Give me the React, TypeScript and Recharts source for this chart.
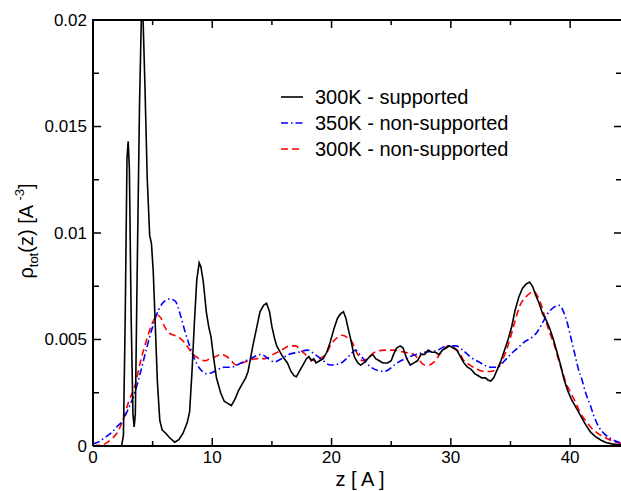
import React from "react";
import { LineChart, Line, XAxis, YAxis } from "recharts";

// 300K - supported (black solid)
const zSup300 = [0, 2.4, 2.55, 2.7, 2.85, 2.95, 3.05, 3.2, 3.35, 3.45, 3.55, 3.7, 3.9, 4.05, 4.2, 4.35, 4.55, 4.75, 4.9, 5.05, 5.2, 5.4, 5.6, 5.8, 6.1, 6.4, 6.85, 7.2, 7.55, 7.9, 8.1, 8.3, 8.5, 8.7, 8.9, 9.05, 9.25, 9.5, 9.7, 9.9, 10.1, 10.35, 10.7, 11.0, 11.3, 11.6, 11.9, 12.2, 12.5, 12.8, 13.0, 13.2, 13.4, 13.7, 14.0, 14.3, 14.55, 14.8, 15.0, 15.2, 15.4, 15.6, 15.9, 16.3, 16.6, 16.85, 17.05, 17.3, 17.6, 17.9, 18.1, 18.3, 18.5, 18.7, 19.0, 19.3, 19.6, 19.9, 20.2, 20.5, 20.75, 21.0, 21.2, 21.4, 21.65, 21.9, 22.2, 22.45, 22.7, 22.9, 23.2, 23.45, 23.7, 24.0, 24.3, 24.7, 25.0, 25.2, 25.45, 25.75, 26.0, 26.3, 26.6, 26.9, 27.2, 27.5, 27.8, 28.1, 28.4, 28.7, 29.0, 29.3, 29.6, 29.9, 30.2, 30.5, 30.8, 31.1, 31.4, 31.7, 32.0, 32.3, 32.6, 32.9, 33.1, 33.35, 33.6, 33.9, 34.2, 34.5, 34.8, 35.1, 35.4, 35.7, 36.0, 36.3, 36.6, 36.85, 37.1, 37.4, 37.7, 38.0, 38.3, 38.6, 38.9, 39.2, 39.5, 39.8, 40.1, 40.5, 40.9, 41.3, 41.7, 42.1, 42.6, 43.0, 43.5, 44.0, 44.3];
const rhoSup300 = [0, 0, 0.0005, 0.006, 0.0135, 0.0143, 0.013, 0.006, 0.0015, 0.0009, 0.0015, 0.008, 0.016, 0.02, 0.02, 0.017, 0.0125, 0.0099, 0.0095, 0.0082, 0.006, 0.003, 0.0012, 0.00075, 0.0006, 0.0004, 0.00018, 0.0003, 0.0006, 0.0011, 0.0016, 0.0035, 0.0058, 0.0078, 0.0086, 0.0084, 0.0077, 0.0063, 0.0056, 0.0051, 0.0042, 0.0032, 0.0025, 0.0021, 0.002, 0.0019, 0.0022, 0.0026, 0.0029, 0.0032, 0.0035, 0.0041, 0.0047, 0.0055, 0.0063, 0.0066, 0.0067, 0.0063, 0.0056, 0.0051, 0.0047, 0.0045, 0.0042, 0.0039, 0.0035, 0.0033, 0.00325, 0.0035, 0.0038, 0.0041, 0.0042, 0.004, 0.0041, 0.0039, 0.004, 0.0041, 0.0044, 0.0049, 0.0055, 0.006, 0.0062, 0.0063, 0.006, 0.0055, 0.0049, 0.0042, 0.0039, 0.0038, 0.0039, 0.004, 0.0042, 0.0043, 0.0041, 0.004, 0.0039, 0.0039, 0.004, 0.0043, 0.0046, 0.0047, 0.0046, 0.0041, 0.0038, 0.0039, 0.004, 0.0043, 0.0043, 0.0045, 0.0044, 0.0044, 0.0043, 0.0045, 0.0046, 0.0047, 0.0046, 0.0045, 0.0042, 0.0039, 0.0037, 0.0036, 0.0034, 0.0033, 0.0032, 0.0032, 0.0031, 0.00305, 0.0032, 0.0036, 0.004, 0.0045, 0.005, 0.0056, 0.0064, 0.007, 0.0074, 0.0076, 0.0077, 0.0075, 0.0071, 0.0067, 0.0062, 0.0059, 0.0055, 0.005, 0.0044, 0.0038, 0.0031, 0.0026, 0.0022, 0.0018, 0.0014, 0.001, 0.00066, 0.00045, 0.00027, 0.00016, 0.0001, 0.00006, 0.00005];

// 350K - non-supported (blue dash-dot)
const zNon350 = [0, 0.5, 1.0, 1.5, 2.0, 2.5, 3.0, 3.5, 4.0, 4.5, 5.0, 5.5, 6.0, 6.4, 6.9, 7.3, 7.7, 8.1, 8.5, 9.0, 9.5, 10.0, 10.5, 11.0, 11.6, 12.4, 13.2, 14.1, 14.7, 15.2, 15.8, 16.4, 17.2, 18.0, 18.6, 19.1, 19.9, 20.8, 21.6, 22.0, 22.5, 23.3, 24.4, 25.5, 26.6, 27.8, 28.9, 29.7, 30.4, 31.0, 31.6, 32.5, 33.3, 33.9, 34.5, 35.0, 35.6, 36.2, 36.8, 37.3, 37.7, 38.1, 38.6, 39.1, 39.45, 39.8, 40.1, 40.4, 40.7, 41.0, 41.3, 41.7, 42.0, 42.4, 42.85, 43.3, 43.7, 44.3];
const rhoNon350 = [0.0001, 0.0002, 0.0004, 0.0006, 0.0009, 0.0012, 0.0018, 0.0025, 0.0035, 0.0046, 0.0056, 0.0064, 0.0068, 0.0069, 0.0068, 0.0062, 0.0054, 0.0047, 0.0041, 0.0036, 0.0034, 0.00345, 0.0036, 0.0037, 0.0037, 0.0039, 0.0041, 0.0043, 0.0041, 0.00395, 0.0041, 0.0043, 0.0044, 0.0045, 0.0043, 0.0041, 0.0038, 0.0039, 0.0043, 0.0045, 0.0042, 0.0037, 0.0035, 0.0039, 0.0042, 0.0044, 0.0045, 0.0047, 0.0047, 0.0045, 0.0042, 0.0039, 0.0037, 0.0037, 0.004, 0.0043, 0.0046, 0.0049, 0.0051, 0.0054, 0.0058, 0.0062, 0.0065, 0.0066, 0.0063, 0.0057, 0.005, 0.0043, 0.0036, 0.0031, 0.0025, 0.0019, 0.0014, 0.0009, 0.00058, 0.00038, 0.00026, 0.00013];

// 300K - non-supported (red dashed)
const zNon300 = [0, 0.5, 1.0, 1.5, 2.0, 2.5, 3.0, 3.5, 4.0, 4.5, 5.0, 5.4, 5.7, 6.0, 6.4, 6.8, 7.2, 7.6, 8.0, 8.4, 8.9, 9.4, 9.8, 10.3, 10.7, 11.2, 11.6, 12.0, 12.5, 13.0, 13.7, 14.4, 15.1, 15.8, 16.5, 17.0, 17.4, 17.8, 18.2, 18.6, 19.0, 19.5, 20.0, 20.5, 20.9, 21.3, 21.7, 22.1, 22.6, 23.0, 23.6, 24.4, 25.2, 26.1, 26.9, 27.4, 27.8, 28.2, 28.6, 29.2, 29.8, 30.3, 30.7, 31.1, 31.6, 32.2, 32.8, 33.3, 33.8, 34.2, 34.6, 35.0, 35.4, 35.8, 36.3, 36.7, 37.0, 37.3, 37.6, 37.95, 38.3, 38.7, 39.0, 39.4, 39.7, 40.05, 40.5, 40.9, 41.3, 41.7, 42.3, 42.85, 43.5, 44.0, 44.3];
const rhoNon300 = [0, 0.00003, 0.0001, 0.0003, 0.0006, 0.0012, 0.0021, 0.0028, 0.004, 0.005, 0.0058, 0.00615, 0.006, 0.0056, 0.0053, 0.0052, 0.0051, 0.0049, 0.0046, 0.0043, 0.0041, 0.004, 0.0041, 0.0042, 0.0043, 0.0042, 0.004, 0.0038, 0.0039, 0.004, 0.0041, 0.0041, 0.0043, 0.0045, 0.0047, 0.0047, 0.0045, 0.0043, 0.0041, 0.004, 0.0041, 0.0043, 0.0048, 0.0051, 0.0052, 0.0051, 0.0049, 0.0044, 0.004, 0.0041, 0.0044, 0.0045, 0.0045, 0.0044, 0.0043, 0.004, 0.0038, 0.0038, 0.00395, 0.0044, 0.0047, 0.0046, 0.0044, 0.004, 0.0038, 0.0036, 0.0035, 0.0035, 0.0036, 0.0039, 0.0044, 0.0051, 0.0059, 0.0066, 0.007, 0.0072, 0.00725, 0.007, 0.0066, 0.0059, 0.0053, 0.0047, 0.0041, 0.0034, 0.0029, 0.0025, 0.002, 0.0015, 0.0012, 0.0009, 0.0006, 0.00042, 0.00025, 0.00015, 0.00012];

const xTicks = [0, 5, 10, 15, 20, 25, 30, 35, 40];
const yTicks = [0, 0.0025, 0.005, 0.0075, 0.01, 0.0125, 0.015, 0.0175, 0.02];
const yLabels = ["0", "", "0.005", "", "0.01", "", "0.015", "", "0.02"];
const seriesNames = ["300K - supported", "350K - non-supported", "300K - non-supported"];
const Z_MAX = 44.35;
const RHO_MAX = 0.02;

const toData = (zs: number[], vs: number[]) => zs.map((z, i) => ({ z, v: vs[i] }));
const dataSup300 = toData(zSup300, rhoSup300);
const dataNon350 = toData(zNon350, rhoNon350);
const dataNon300 = toData(zNon300, rhoNon300);

const FONT = "'Liberation Sans', Arial, Helvetica, sans-serif";

// plot rectangle (chart margins + axis sizes)
const PLOT_LEFT = 93;
const PLOT_TOP = 20;
const PLOT_W = 529;
const PLOT_H = 426;

const isMajorX = (v: number) => Math.round(v) % 10 === 0;
const yIndex = (v: number) => yTicks.findIndex((t) => Math.abs(t - v) < 1e-9);
const isMajorY = (v: number) => yIndex(v) % 2 === 0;

const BottomTick = (p: any) => {
  const { x, y, payload } = p;
  const major = isMajorX(payload.value);
  return (
    <g>
      <line x1={x} x2={x} y1={y} y2={y - (major ? 8 : 5)} stroke="#000" strokeWidth={1.5} />
      {major && (
        <text x={x} y={y + 17} textAnchor="middle" fontSize={17} fontFamily={FONT} fill="#000">
          {payload.value}
        </text>
      )}
    </g>
  );
};
const LeftTick = (p: any) => {
  const { x, y, payload } = p;
  const major = isMajorY(payload.value);
  return (
    <g>
      <line x1={x} x2={x + (major ? 8 : 6)} y1={y} y2={y} stroke="#000" strokeWidth={1.5} />
      {major && (
        <text x={x - 6} y={y} dy="0.35em" textAnchor="end" fontSize={17} fontFamily={FONT} fill="#000">
          {yLabels[yIndex(payload.value)]}
        </text>
      )}
    </g>
  );
};

const XLabel = () => (
  <text x={360} y={486} textAnchor="middle" fontSize={20} fontFamily={FONT} fill="#000">
    z [ A ]
  </text>
);
const YLabel = () => (
  <text x={33} y={231} transform="rotate(-90 33 231)" textAnchor="middle" fontSize={20} fontFamily={FONT} fill="#000">
    <tspan>ρ</tspan>
    <tspan fontSize={13} dy={5}>tot</tspan>
    <tspan dy={-5}>(z) [A </tspan>
    <tspan fontSize={13} dy={-9}>-3</tspan>
    <tspan dy={9}>]</tspan>
  </text>
);

const legendStyles = [
  { stroke: "#000", dash: undefined as string | undefined },
  { stroke: "#0000ff", dash: "7 3 1.5 3" },
  { stroke: "#ff0000", dash: "7 4" },
];

// top and right frame edges with inward tick marks
const Frame = () => {
  const right = PLOT_LEFT + PLOT_W;
  return (
    <svg width={621} height={491} style={{ position: "absolute", left: 0, top: 0, pointerEvents: "none" }}>
      <line x1={PLOT_LEFT - 1} x2={right} y1={PLOT_TOP} y2={PLOT_TOP} stroke="#000" strokeWidth={2} />
      <line x1={right} x2={right} y1={PLOT_TOP} y2={PLOT_TOP + PLOT_H} stroke="#000" strokeWidth={2} />
      {xTicks.map((t) => {
        const x = PLOT_LEFT + (t / Z_MAX) * PLOT_W;
        return <line key={"x" + t} x1={x} x2={x} y1={PLOT_TOP} y2={PLOT_TOP + (isMajorX(t) ? 8 : 5)} stroke="#000" strokeWidth={1.5} />;
      })}
      {yTicks.map((t) => {
        const y = PLOT_TOP + (1 - t / RHO_MAX) * PLOT_H;
        return <line key={"y" + t} x1={right} x2={right - (isMajorY(t) ? 8 : 6)} y1={y} y2={y} stroke="#000" strokeWidth={1.5} />;
      })}
    </svg>
  );
};

export default function App() {
  return (
    <div style={{ position: "absolute", left: 0, top: 0, width: 621, height: 491, overflow: "hidden", background: "#fff" }}>
      <LineChart width={623} height={491} margin={{ top: PLOT_TOP, right: 1, bottom: 0, left: 0 }}>
        <XAxis
          xAxisId="b"
          type="number"
          dataKey="z"
          domain={[0, Z_MAX]}
          ticks={xTicks}
          interval={0}
          tickSize={0}
          tickMargin={0}
          tickLine={false}
          tick={BottomTick}
          height={45}
          axisLine={{ stroke: "#000", strokeWidth: 2 }}
          label={<XLabel />}
        />
        <YAxis
          yAxisId="l"
          type="number"
          dataKey="v"
          domain={[0, RHO_MAX]}
          ticks={yTicks}
          interval={0}
          tickSize={0}
          tickMargin={0}
          tickLine={false}
          tick={LeftTick}
          width={PLOT_LEFT}
          axisLine={{ stroke: "#000", strokeWidth: 2 }}
          label={<YLabel />}
        />
        <Line
          xAxisId="b"
          yAxisId="l"
          data={dataNon300}
          dataKey="v"
          type="monotone"
          stroke="#ff0000"
          strokeWidth={1.6}
          strokeDasharray="7 4"
          dot={false}
          isAnimationActive={false}
          name={seriesNames[2]}
        />
        <Line
          xAxisId="b"
          yAxisId="l"
          data={dataNon350}
          dataKey="v"
          type="monotone"
          stroke="#0000ff"
          strokeWidth={1.6}
          strokeDasharray="7 3 1.5 3"
          dot={false}
          isAnimationActive={false}
          name={seriesNames[1]}
        />
        <Line
          xAxisId="b"
          yAxisId="l"
          data={dataSup300}
          dataKey="v"
          type="linear"
          stroke="#000"
          strokeWidth={1.6}
          dot={false}
          isAnimationActive={false}
          name={seriesNames[0]}
        />
      </LineChart>
      <Frame />
      <svg width={300} height={90} style={{ position: "absolute", left: 270, top: 80 }}>
        {seriesNames.map((n, i) => (
          <g key={n}>
            <line
              x1={11}
              x2={33}
              y1={17 + i * 26}
              y2={17 + i * 26}
              stroke={legendStyles[i].stroke}
              strokeWidth={1.6}
              strokeDasharray={legendStyles[i].dash}
            />
            <text x={45} y={17 + i * 26} dy="0.36em" fontSize={20} fontFamily={FONT} fill="#000">
              {n}
            </text>
          </g>
        ))}
      </svg>
    </div>
  );
}
